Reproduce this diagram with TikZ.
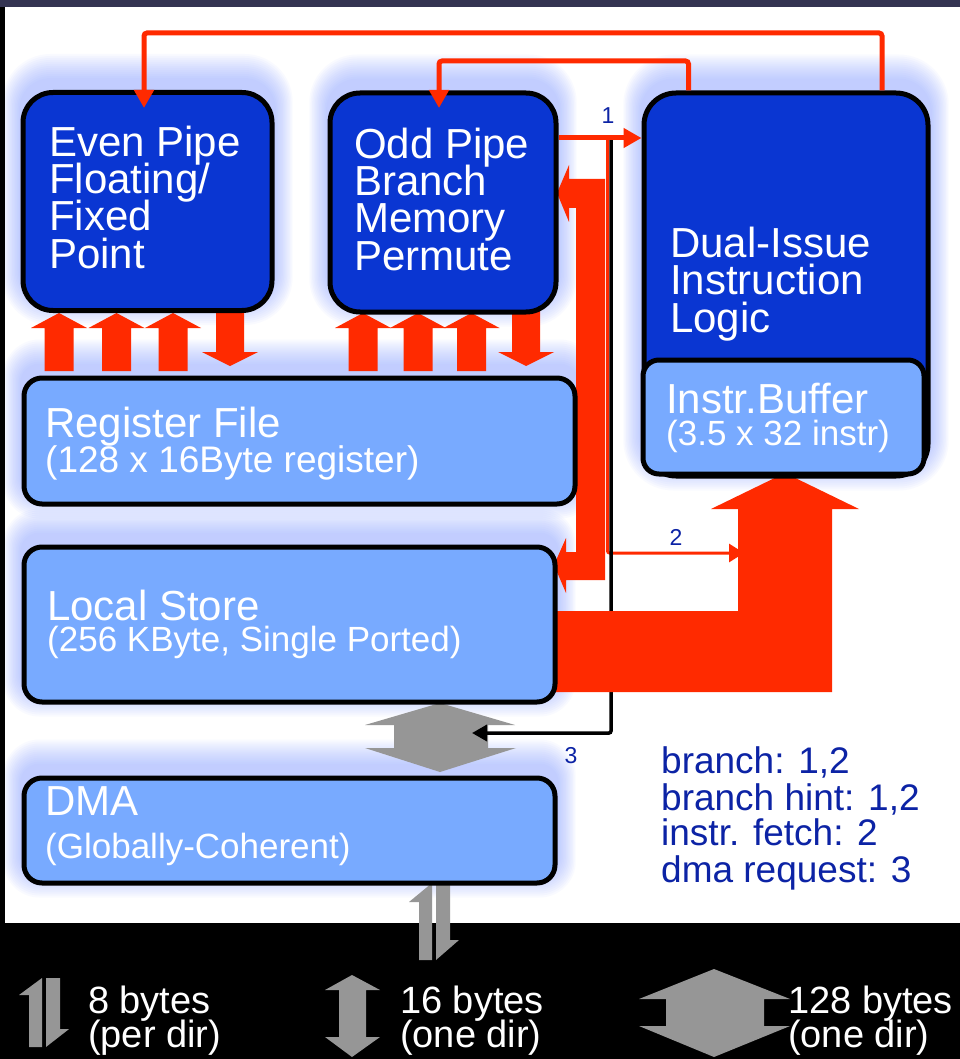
\documentclass[tikz,border=0pt]{standalone}
\usepackage{fontspec}
\setmainfont{Liberation Sans}
\usetikzlibrary{arrows.meta,calc}
\pgfdeclarelayer{bg}
\pgfdeclarelayer{halo}
\pgfdeclarelayer{lower}
\pgfsetlayers{bg,halo,lower,main}

\definecolor{pipeblue}{RGB}{10,54,210}
\definecolor{storeblue}{RGB}{120,170,255}
\definecolor{busred}{RGB}{255,42,0}
\definecolor{portgray}{RGB}{150,150,150}
\definecolor{labelblue}{RGB}{12,35,165}
\definecolor{haloblue}{RGB}{140,165,255}
\definecolor{topbar}{RGB}{52,52,82}

\tikzset{
  darkbox/.style={draw=black, line width=5pt, fill=pipeblue, rounded corners=30pt,
    inner sep=0pt, anchor=north west},
  litebox/.style={draw=black, line width=5pt, fill=storeblue, rounded corners=18pt,
    inner sep=0pt, anchor=north west},
  bigtxt/.style={font=\fontsize{42}{42}\selectfont, text=white, anchor=base west, inner sep=0pt},
  subtxt/.style={font=\fontsize{35}{35}\selectfont, text=white, anchor=base west, inner sep=0pt},
  keytxt/.style={font=\fontsize{37}{37}\selectfont, text=labelblue, anchor=base west, inner sep=0pt},
  bytetxt/.style={font=\fontsize{38}{38}\selectfont, text=white, anchor=base west, inner sep=0pt},
  numlbl/.style={font=\fontsize{23}{23}\selectfont, text=labelblue, anchor=base, inner sep=0pt},
  feedred/.style={draw=busred, line width=5pt, rounded corners=3pt,
    -{Triangle[width=19pt,length=18pt]}},
  fetchred/.style={draw=busred, line width=3pt, rounded corners=2pt,
    -{Triangle[width=18pt,length=15pt]}},
  dmaline/.style={draw=black, line width=3.5pt, rounded corners=2pt,
    -{Triangle[width=16pt,length=15pt]}},
  upbus/.pic={\fill[busred] (0,0) -- (28,15) -- (14.5,15) -- (14.5,58) -- (-14.5,58)
    -- (-14.5,15) -- (-28,15) -- cycle;},
  downbus/.pic={\fill[busred] (0,0) -- (28,-14) -- (14,-14) -- (14,-57) -- (-14,-57)
    -- (-14,-14) -- (-28,-14) -- cycle;},
  portpair/.pic={
    \fill[portgray] (0,0) -- (0,77) -- (-13,77) -- (-13,19) -- (-23,19) -- cycle;
    \fill[portgray] (4,0) -- (18,0) -- (18,57) -- (27,57) -- (4,77) -- cycle;},
}

\begin{document}
\begin{tikzpicture}[x=1pt, y=-1pt]
\useasboundingbox (0,0) rectangle (960,1059);

% page background
\begin{pgfonlayer}{bg}
  \fill[white] (0,0) rectangle (960,1059);
  \fill[black] (0,923) rectangle (960,1059);
\end{pgfonlayer}

% functional units
\node[darkbox, minimum width=249pt, minimum height=218pt] (even) at (20.5,90) {};
\node[darkbox, minimum width=226pt, minimum height=219pt] (odd) at (327.5,90.5) {};
\node[darkbox, minimum width=284pt, minimum height=383pt, rounded corners=32pt] (dual) at (641.5,90.5) {};
\node[litebox, minimum width=281pt, minimum height=114pt, rounded corners=16pt] (ibuf) at (640.5,357.5) {};
\node[litebox, minimum width=551pt, minimum height=126pt] (reg) at (21.5,375.5) {};
\node[litebox, minimum width=531pt, minimum height=155pt] (local) at (21.5,544.5) {};
\node[litebox, minimum width=531pt, minimum height=105pt] (dma) at (21.5,775.5) {};

% soft halo behind the units, lifted slightly upwards
\begin{pgfonlayer}{halo}
  \foreach \n/\r in {even/30, odd/30, dual/32, reg/18, local/18, dma/18} {
    \foreach \d in {2,4,...,26} {
      \pgfmathsetmacro\rr{\r+0.7*\d}
      \pgfmathsetmacro\dx{0.7*\d}
      \fill[haloblue, opacity=0.05, rounded corners=\rr pt]
        ($(\n.north west)+(-\dx,-\d-10)$) rectangle ($(\n.south east)+(\dx,\d-14)$);
    }
  }
\end{pgfonlayer}

% coordinates for the thin control paths
\coordinate (rOuter) at (882,33);
\coordinate (rInner) at (688.5,61);
\coordinate (evenIn) at (144,108);
\coordinate (oddIn) at (439,108);
\coordinate (y1) at (0,138);
\coordinate (tap) at (607.5,138);
\coordinate (dtap) at (611,138);
\coordinate (ifetch) at (744,553);
\coordinate (dmaport) at (472,733);

\begin{pgfonlayer}{lower}
  % 128-byte port between local store and DMA
  \fill[portgray] (440,703) -- (515,725) -- (488,725) -- (488,748) -- (516,748)
    -- (440,772) -- (365,748) -- (394,748) -- (394,725) -- (365,725) -- cycle;
  % instruction fetch and DMA request paths
  \draw[fetchred] (tap) |- (ifetch);
  \draw[dmaline] (dtap) |- (dmaport);
  % odd pipe <-> local store bus
  \fill[busred] (557,193) -- (569,165) -- (569,179) -- (605,179) -- (605,580)
    -- (566,580) -- (566,593) -- (554,565) -- (566,538) -- (566,552) -- (576,552)
    -- (576,208) -- (569,208) -- (569,222) -- cycle;
  % local store -> instruction buffer
  \fill[busred] (553,611) -- (738,611) -- (738,509) -- (711,509) -- (785,473)
    -- (859,509) -- (832,509) -- (832,692) -- (553,692) -- cycle;
  % register file <-> pipes
  \foreach \x in {59,116.5,173,363,418,471.5} \pic at (\x,313) {upbus};
  \foreach \x in {230,526} \pic at (\x,366) {downbus};
  % DMA external port
  \pic at (432,883) {portpair};
  % width legend symbols
  \pic[yscale=0.896] at (42,978) {portpair};
  \fill[portgray] (352,975) -- (380,990) -- (366,990) -- (366,1037) -- (380,1037)
    -- (352,1057) -- (325,1037) -- (339,1037) -- (339,990) -- (325,990) -- cycle;
  \fill[portgray] (714,969) -- (790,999) -- (764,999) -- (764,1026) -- (790,1026)
    -- (714,1057) -- (639,1026) -- (666,1026) -- (666,999) -- (639,999) -- cycle;
\end{pgfonlayer}

% frame edges
\fill[black] (0,0) rectangle (5,923);
\fill[topbar] (0,0) rectangle (960,7);

% branch / hint paths
\draw[feedred] (dual.north -| rOuter) -- (rOuter) -| (evenIn);
\draw[feedred] (dual.north -| rInner) -- (rInner) -| (oddIn);
\draw[feedred] (odd.east |- y1) -- (dual.west |- y1);

\node[numlbl] (lbl1) at (608,124) {1};
\node[numlbl] (lbl2) at (676,545) {2};
\node[numlbl] (lbl3) at (571,763) {3};

% unit labels
\foreach \t [count=\i] in {Even Pipe, Floating/, Fixed, Point}
  \node[bigtxt] (evenTxt\i) at (49,{157+37*(\i-1)}) {\t};
\foreach \t [count=\i] in {Odd Pipe, Branch, Memory, Permute}
  \node[bigtxt] (oddTxt\i) at (354,{159+37*(\i-1)}) {\t};
\foreach \t [count=\i] in {Dual-Issue, Instruction, Logic}
  \node[bigtxt] (dualTxt\i) at (670,{257+37.5*(\i-1)}) {\t};
\node[bigtxt] (ibufTxt) at (666,413) {Instr.Buffer};
\node[subtxt] (ibufSub) at (666,445) {(3.5 x 32 instr)};
\node[bigtxt] (regTxt) at (45,437) {Register File};
\node[subtxt, font=\fontsize{37}{37}\selectfont] (regSub) at (45,472) {(128 x 16Byte register)};
\node[bigtxt] (localTxt) at (47,620) {Local Store};
\node[subtxt] (localSub) at (47,651) {(256 KByte, Single Ported)};
\node[bigtxt] (dmaTxt) at (45,815) {DMA};
\node[subtxt] (dmaSub) at (45,858) {(Globally-Coherent)};

% path key
\node[keytxt] (key1) at (661,773) {branch: 1,2};
\node[keytxt] (key2) at (661,810) {branch hint: 1,2};
\node[keytxt] (key3) at (661,845) {instr. fetch: 2};
\node[keytxt] (key4) at (661,882) {dma request: 3};

% width legend
\node[bytetxt] (w8a) at (88,1013) {8 bytes};
\node[bytetxt] (w8b) at (88,1047) {(per dir)};
\node[bytetxt] (w16a) at (400,1013) {16 bytes};
\node[bytetxt] (w16b) at (400,1047) {(one dir)};
\node[bytetxt] (w128a) at (788,1013) {128 bytes};
\node[bytetxt] (w128b) at (788,1047) {(one dir)};
\end{tikzpicture}
\end{document}
